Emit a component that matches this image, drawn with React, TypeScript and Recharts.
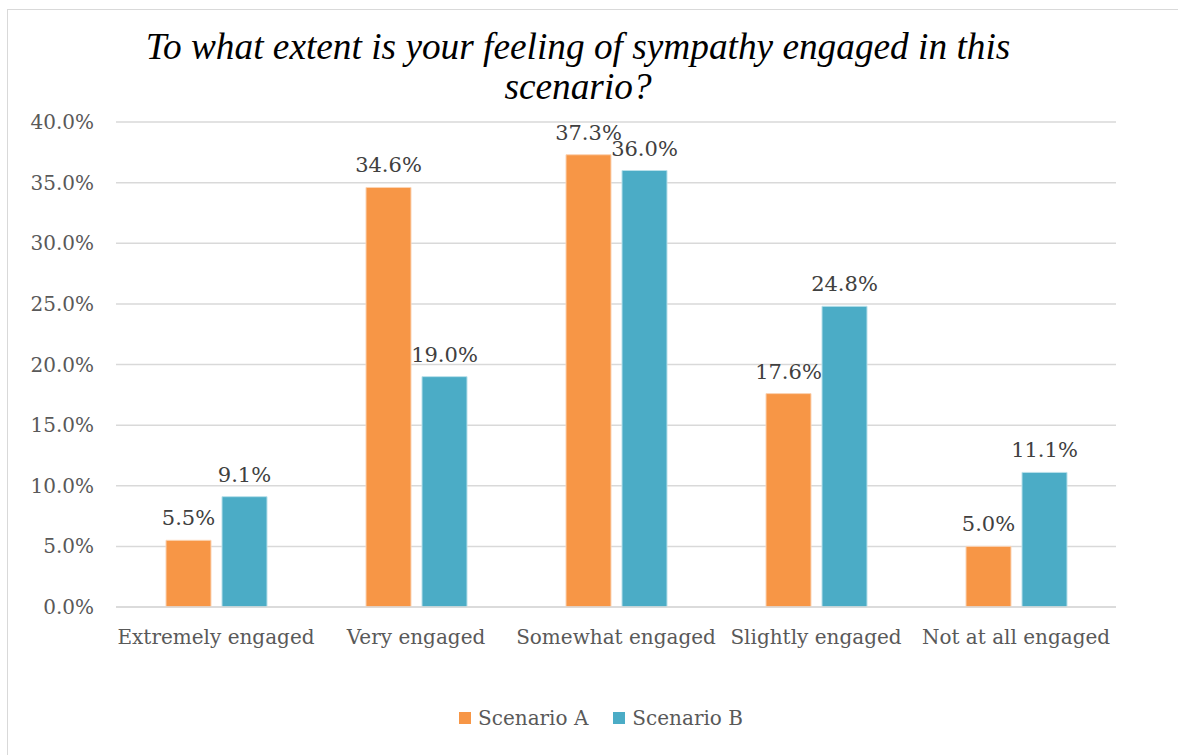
import React from 'react';
import { BarChart, Bar, XAxis, YAxis, CartesianGrid, LabelList } from 'recharts';

const categories = ['Extremely engaged', 'Very engaged', 'Somewhat engaged', 'Slightly engaged', 'Not at all engaged'];
const scenarioA = [0.055, 0.346, 0.373, 0.176, 0.05];
const scenarioB = [0.091, 0.19, 0.36, 0.248, 0.111];
const yTicks = [0, 0.05, 0.1, 0.15, 0.2, 0.25, 0.3, 0.35, 0.4];
const seriesNames = ['Scenario A', 'Scenario B'];
const colors = ['#F79646', '#4BACC6'];
const titleLines = ['To what extent is your feeling of sympathy engaged in this', 'scenario?'];

const data = categories.map((c, i) => ({ name: c, a: scenarioA[i], b: scenarioB[i] }));

const axisFont = '"DejaVu Serif", serif';
const pct = (v: number) => (v * 100).toFixed(1) + '%';

export default function App() {
  return (
    <div style={{ position: 'absolute', left: 0, top: 0, width: 1178, height: 755, background: '#fff', overflow: 'hidden' }}>
      <div style={{ position: 'absolute', left: 7, top: 9, width: 1190, height: 770, border: '1.5px solid #d9d9d9', boxSizing: 'border-box' }} />
      <div
        style={{
          position: 'absolute',
          left: 78,
          top: 27,
          width: 1000,
          textAlign: 'center',
          fontFamily: '"Liberation Serif", "Times New Roman", serif',
          fontStyle: 'italic',
          fontSize: 37.3,
          lineHeight: '40px',
          color: '#000',
          whiteSpace: 'nowrap',
        }}
      >
        {titleLines.map((l) => (
          <div key={l}>{l}</div>
        ))}
      </div>
      <div style={{ position: 'absolute', left: 0, top: 0 }}>
        <BarChart
          width={1178}
          height={755}
          data={data}
          margin={{ top: 122, right: 62, left: 0, bottom: 88 }}
          barCategoryGap="25%"
          barGap={11}
        >
          <CartesianGrid vertical={false} stroke="#d9d9d9" strokeWidth={1.5} />
          <XAxis
            dataKey="name"
            height={60}
            tickLine={false}
            axisLine={{ stroke: '#d9d9d9', strokeWidth: 1.5 }}
            tickSize={0}
            tickMargin={23}
            interval={0}
            tick={{ fontFamily: axisFont, fontSize: 20, fill: '#595959' }}
          />
          <YAxis
            width={116}
            domain={[0, 0.4]}
            ticks={yTicks}
            tickFormatter={pct}
            tickLine={false}
            axisLine={false}
            tickSize={0}
            tickMargin={22}
            tick={{ fontFamily: axisFont, fontSize: 20, fill: '#595959' }}
          />
          <Bar dataKey="a" name={seriesNames[0]} fill={colors[0]} stroke="#fbd3b3" strokeWidth={1} isAnimationActive={false}>
            <LabelList dataKey="a" position="top" offset={15} formatter={(v: any) => pct(Number(v))} style={{ fontFamily: axisFont, fontSize: 21, fill: '#404040' }} />
          </Bar>
          <Bar dataKey="b" name={seriesNames[1]} fill={colors[1]} stroke="#b8e0ea" strokeWidth={1} isAnimationActive={false}>
            <LabelList dataKey="b" position="top" offset={15} formatter={(v: any) => pct(Number(v))} style={{ fontFamily: axisFont, fontSize: 21, fill: '#404040' }} />
          </Bar>
        </BarChart>
      </div>
      <div
        style={{
          position: 'absolute',
          left: 0,
          top: 706,
          width: 1202,
          display: 'flex',
          justifyContent: 'center',
          alignItems: 'center',
          fontFamily: axisFont,
          fontSize: 20,
          color: '#595959',
        }}
      >
        {seriesNames.map((n, i) => (
          <div key={n} style={{ display: 'flex', alignItems: 'center', marginRight: i === 0 ? 25 : 0 }}>
            <span style={{ display: 'inline-block', width: 12, height: 12, background: colors[i], marginRight: 7 }} />
            <span>{n}</span>
          </div>
        ))}
      </div>
    </div>
  );
}
